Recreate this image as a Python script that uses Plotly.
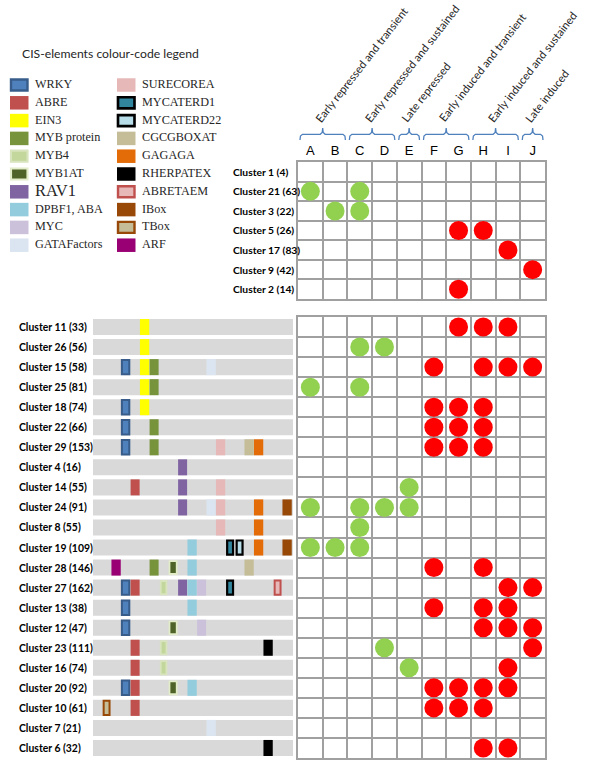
import plotly.graph_objects as go

# ---------------- data ----------------
letters = ["A", "B", "C", "D", "E", "F", "G", "H", "I", "J"]

group_labels = ["Early repressed and transient", "Early repressed and sustained",
                "Late repressed", "Early induced and transient",
                "Early induced and sustained", "Late induced"]
group_first = ["A", "C", "E", "F", "H", "J"]
group_last = ["B", "D", "E", "G", "I", "J"]

top_clusters = ["Cluster 1 (4)", "Cluster 21 (63)", "Cluster 3 (22)", "Cluster 5 (26)",
                "Cluster 17 (83)", "Cluster 9 (42)", "Cluster 2 (14)"]
top_green = [[], ["A", "C"], ["B", "C"], [], [], [], []]
top_red = [[], [], [], ["G", "H"], ["I"], ["J"], ["G"]]

bottom_clusters = ["Cluster 11 (33)", "Cluster 26 (56)", "Cluster 15 (58)", "Cluster 25 (81)",
                   "Cluster 18 (74)", "Cluster 22 (66)", "Cluster 29 (153)", "Cluster 4 (16)",
                   "Cluster 14 (55)", "Cluster 24 (91)", "Cluster 8 (55)", "Cluster 19 (109)",
                   "Cluster 28 (146)", "Cluster 27 (162)", "Cluster 13 (38)", "Cluster 12 (47)",
                   "Cluster 23 (111)", "Cluster 16 (74)", "Cluster 20 (92)", "Cluster 10 (61)",
                   "Cluster 7 (21)", "Cluster 6 (32)"]
bottom_green = [[], ["C", "D"], [], ["A", "C"], [], [], [], [], ["E"], ["A", "C", "D", "E"],
                ["C"], ["A", "B", "C"], [], [], [], [], ["D"], ["E"], [], [], [], []]
bottom_red = [["G", "H", "I"], [], ["F", "H", "I", "J"], [], ["F", "G", "H"], ["F", "G", "H"],
              ["F", "G", "H"], [], [], [], [], [], ["F", "H"], ["I", "J"], ["F", "H", "I"],
              ["H", "I", "J"], ["J"], ["I"], ["F", "G", "H", "I"], ["F", "G", "H"], [], ["H", "I"]]

bottom_motifs = [
    ["EIN3"],
    ["EIN3"],
    ["WRKY", "EIN3", "MYB protein", "GATAFactors"],
    ["EIN3", "MYB protein"],
    ["WRKY", "EIN3"],
    ["WRKY", "MYB protein"],
    ["WRKY", "MYB protein", "SURECOREA", "CGCGBOXAT", "GAGAGA"],
    ["RAV1"],
    ["ABRE", "RAV1", "SURECOREA"],
    ["RAV1", "GATAFactors", "SURECOREA", "GAGAGA", "IBox"],
    ["SURECOREA", "GAGAGA"],
    ["DPBF1, ABA", "MYCATERD1", "MYCATERD22", "GAGAGA", "IBox"],
    ["ARF", "MYB protein", "MYB1AT", "DPBF1, ABA", "CGCGBOXAT"],
    ["WRKY", "ABRE", "MYB4", "RAV1", "DPBF1, ABA", "MYC", "MYCATERD1", "ABRETAEM"],
    ["WRKY", "DPBF1, ABA"],
    ["WRKY", "MYB1AT", "MYC"],
    ["ABRE", "MYB4", "RHERPATEX"],
    ["ABRE", "MYB4"],
    ["WRKY", "ABRE", "MYB1AT", "DPBF1, ABA"],
    ["TBox", "ABRE"],
    ["GATAFactors"],
    ["RHERPATEX"],
]

# order of motif slots along the promoter bars
motif_order = ["TBox", "ARF", "WRKY", "ABRE", "EIN3", "MYB protein", "MYB4", "MYB1AT", "RAV1",
               "DPBF1, ABA", "MYC", "GATAFactors", "SURECOREA", "MYCATERD1", "MYCATERD22",
               "CGCGBOXAT", "GAGAGA", "RHERPATEX", "ABRETAEM", "IBox"]

legend_col1 = ["WRKY", "ABRE", "EIN3", "MYB protein", "MYB4", "MYB1AT", "RAV1", "DPBF1, ABA",
               "MYC", "GATAFactors"]
legend_col2 = ["SURECOREA", "MYCATERD1", "MYCATERD22", "CGCGBOXAT", "GAGAGA", "RHERPATEX",
               "ABRETAEM", "IBox", "TBox", "ARF"]

# ---------------- styles ----------------
# fill, border colour, border width, block width (slot units), block height (row units)
STYLE = {
    "WRKY": ("#4f81bd", "#385d8a", 2, 0.78, 0.72),
    "ABRE": ("#c0504d", None, 0, 0.95, 0.8),
    "EIN3": ("#ffff00", None, 0, 0.98, 0.8),
    "MYB protein": ("#77933c", None, 0, 0.95, 0.8),
    "MYB4": ("#c3d69b", "#d7e4bd", 1.8, 0.6, 0.66),
    "MYB1AT": ("#4f6228", "#e2ecc8", 1.8, 0.76, 0.64),
    "RAV1": ("#8064a2", None, 0, 0.95, 0.8),
    "DPBF1, ABA": ("#93cddd", None, 0, 0.98, 0.8),
    "MYC": ("#ccc1da", None, 0, 0.95, 0.8),
    "GATAFactors": ("#dbe5f1", None, 0, 0.98, 0.8),
    "SURECOREA": ("#e6b9b8", None, 0, 0.98, 0.8),
    "MYCATERD1": ("#31859c", "#000000", 2.2, 0.62, 0.7),
    "MYCATERD22": ("#b7dee8", "#000000", 2.2, 0.62, 0.7),
    "CGCGBOXAT": ("#c4bd97", None, 0, 0.98, 0.8),
    "GAGAGA": ("#e36c09", None, 0, 0.98, 0.8),
    "RHERPATEX": ("#000000", None, 0, 0.98, 0.8),
    "ABRETAEM": ("#e6b9b8", "#c0504d", 2, 0.62, 0.7),
    "IBox": ("#984807", None, 0, 0.98, 0.8),
    "TBox": ("#c4bd97", "#984807", 2, 0.62, 0.7),
    "ARF": ("#990073", None, 0, 0.98, 0.8),
}
GREEN = "#92d050"
RED = "#ff0000"
GRID = "#a0a0a0"
W, H = 600, 763

def px_x(a, b):
    return [a / W, b / W]

def px_y(top, bottom):
    return [1 - bottom / H, 1 - top / H]

# promoter panel geometry (pixels)
PANEL_LEFT, PANEL_RIGHT = 93, 293
SLOT0, PITCH = 106.6, 9.5
p_r0 = (PANEL_LEFT - SLOT0) / PITCH
p_r1 = (PANEL_RIGHT - SLOT0) / PITCH

fig = go.Figure()

# ---------- dot matrices ----------
def add_dots(clusters, lists, color, xa, ya):
    xs, ys = [], []
    for c, l in zip(clusters, lists):
        for letter in l:
            xs.append(letter)
            ys.append(c)
    fig.add_trace(go.Scatter(x=xs, y=ys, mode="markers", xaxis=xa, yaxis=ya,
                             marker=dict(size=19, color=color, line=dict(width=0)),
                             showlegend=False, hoverinfo="skip", cliponaxis=False))

add_dots(top_clusters, top_green, GREEN, "x", "y")
add_dots(top_clusters, top_red, RED, "x", "y")
add_dots(bottom_clusters, bottom_green, GREEN, "x2", "y2")
add_dots(bottom_clusters, bottom_red, RED, "x2", "y2")

# ---------- promoter bars ----------
fig.add_trace(go.Bar(orientation="h", y=bottom_clusters, x=[p_r1 - p_r0] * len(bottom_clusters),
                     base=p_r0, width=0.8, marker=dict(color="#d9d9d9", line=dict(width=0)),
                     xaxis="x3", yaxis="y3", showlegend=False, hoverinfo="skip"))
for m in motif_order:
    ys = [c for c, ms in zip(bottom_clusters, bottom_motifs) if m in ms]
    if not ys:
        continue
    fill, lc, lw, bw, bh = STYLE[m]
    idx = motif_order.index(m)
    fig.add_trace(go.Bar(orientation="h", y=ys, x=[bw] * len(ys), base=idx - bw / 2,
                         width=bh, marker=dict(color=fill, line=dict(color=lc or fill, width=lw)),
                         xaxis="x3", yaxis="y3", showlegend=False, hoverinfo="skip"))

# ---------- legend (own axes) ----------
LEG_COL_X = [10, 117]
SW_W = 18.5
for col, names in enumerate([legend_col1, legend_col2]):
    for i, m in enumerate(names):
        fill, lc, lw, bw, bh = STYLE[m]
        fig.add_trace(go.Bar(orientation="h", y=[i], x=[SW_W if not lw else SW_W - 2],
                             base=LEG_COL_X[col] + (1 if lw else 0),
                             width=0.76 if not lw else 0.62,
                             marker=dict(color=fill, line=dict(color=lc or fill, width=lw * 1.2)),
                             xaxis="x4", yaxis="y4", showlegend=False, hoverinfo="skip"))
    fig.add_trace(go.Scatter(x=[LEG_COL_X[col] + 25] * len(names), y=list(range(len(names))),
                             mode="text", text=names, textposition="middle right",
                             textfont=dict(family="Liberation Serif", color="#262626",
                                           size=[16.5 if n == "RAV1" else 12.2 for n in names]),
                             xaxis="x4", yaxis="y4", showlegend=False, hoverinfo="skip",
                             cliponaxis=False))

# ---------- braces & group labels ----------
annotations = []
for lab, a, b in zip(group_labels, group_first, group_last):
    i0, i1 = letters.index(a), letters.index(b)
    xl, xr, xm = i0 - 0.5 + 0.08, i1 + 0.5 - 0.08, (i0 + i1) / 2
    bx = [xl, xl + 0.02, xl + 0.1, xm - 0.1, xm - 0.02, xm, xm + 0.02, xm + 0.1, xr - 0.1, xr - 0.02, xr]
    by = [140, 136, 134.3, 134.3, 132.5, 128, 132.5, 134.3, 134.3, 136, 140]
    fig.add_trace(go.Scatter(x=bx, y=by, mode="lines", xaxis="x5", yaxis="y5",
                             line=dict(color="#4f81bd", width=1.3), showlegend=False,
                             hoverinfo="skip", cliponaxis=False))
    annotations.append(dict(text=lab, x=xm, y=127, xref="x5", yref="y5", showarrow=False,
                            textangle=-52, xanchor="left", yanchor="bottom", xshift=-13,
                            font=dict(family="Lato", size=11.2, color="#262626")))

# ---------- row labels ----------
for c in top_clusters:
    annotations.append(dict(text="<b>%s</b>" % c, x=231 / W, xref="paper", y=c, yref="y",
                            xanchor="left", yanchor="middle", showarrow=False,
                            font=dict(family="Lato", size=10.3, color="#000000")))
for c in bottom_clusters:
    annotations.append(dict(text="<b>%s</b>" % c, x=17 / W, xref="paper", y=c, yref="y3",
                            xanchor="left", yanchor="middle", showarrow=False,
                            font=dict(family="Lato", size=10.4, color="#000000")))

annotations.append(dict(text="CIS-elements colour-code legend", x=20 / W, y=1 - 53 / H,
                        xref="paper", yref="paper", xanchor="left", yanchor="middle",
                        showarrow=False, font=dict(family="Lato", size=12.2, color="#262626")))

grid_x = dict(type="category", categoryorder="array", categoryarray=letters,
              range=[-0.5, 9.5], tickson="boundaries", showgrid=True, gridcolor=GRID,
              gridwidth=1.5, showline=True, linecolor=GRID, linewidth=1.5, mirror=True,
              ticks="", zeroline=False, fixedrange=True)

def grid_y(clusters):
    return dict(type="category", categoryorder="array", categoryarray=clusters,
                range=[len(clusters) - 0.5, -0.5], tickson="boundaries", showgrid=True,
                gridcolor=GRID, gridwidth=1.5, showline=True, linecolor=GRID, linewidth=1.5,
                mirror=True, ticks="", showticklabels=False, zeroline=False, fixedrange=True)

hidden = dict(visible=False, showgrid=False, zeroline=False, fixedrange=True)

fig.update_layout(
    width=W, height=H, margin=dict(l=0, r=0, t=0, b=0),
    paper_bgcolor="white", plot_bgcolor="white", barmode="overlay", showlegend=False,
    xaxis=dict(grid_x, domain=px_x(298, 545), side="top", anchor="y",
               tickfont=dict(family="Liberation Sans", size=13, color="#000000")),
    yaxis=dict(grid_y(top_clusters), domain=px_y(162, 299), anchor="x"),
    xaxis2=dict(grid_x, domain=px_x(298, 545), showticklabels=False, anchor="y2"),
    yaxis2=dict(grid_y(bottom_clusters), domain=px_y(317, 758), anchor="x2"),
    xaxis3=dict(hidden, domain=px_x(PANEL_LEFT, PANEL_RIGHT), range=[p_r0, p_r1], anchor="y3"),
    yaxis3=dict(hidden, type="category", categoryorder="array", categoryarray=bottom_clusters,
                range=[len(bottom_clusters) - 0.5, -0.5], domain=px_y(317, 758), anchor="x3"),
    xaxis4=dict(hidden, domain=px_x(0, 240), range=[0, 240], anchor="y4"),
    yaxis4=dict(hidden, domain=px_y(70, 260), range=[(260 - 85) / 17.8, (70 - 85) / 17.8],
                anchor="x4"),
    xaxis5=dict(hidden, domain=px_x(298, 545), range=[-0.5, 9.5], anchor="y5"),
    yaxis5=dict(hidden, domain=px_y(0, 160), range=[160, 0], anchor="x5"),
    annotations=annotations,
)

fig.write_html("out.html", config={"displayModeBar": False},
               post_script="document.body.style.margin='0';")
